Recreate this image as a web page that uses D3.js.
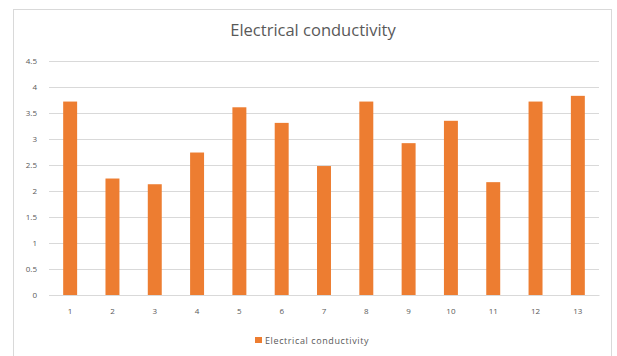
<!DOCTYPE html>
<html>
<head>
<meta charset="utf-8">
<script src="https://cdn.jsdelivr.net/npm/d3@7"></script>
<style>
  html, body { margin: 0; padding: 0; background: #ffffff; }
  svg { display: block; }
  text { font-family: "Open Sans", "Noto Sans", sans-serif; fill: #595959; }
</style>
</head>
<body>
<script>
// Sample numbers and their measured conductivity
const categories = ["1","2","3","4","5","6","7","8","9","10","11","12","13"];
const conductivity = [3.72, 2.24, 2.13, 2.74, 3.61, 3.31, 2.48, 3.72, 2.92, 3.35, 2.17, 3.72, 3.83];
const yTicks = [0, 0.5, 1, 1.5, 2, 2.5, 3, 3.5, 4, 4.5];
const seriesName = "Electrical conductivity";
const chartTitle = "Electrical conductivity";

const W = 617, H = 356;
const plot = { left: 49, right: 599, top: 61, bottom: 295 };
const barColor = "#ED7D31";
const gridColor = "#d9d9d9";

const svg = d3.select("body").append("svg")
  .attr("width", W).attr("height", H);

// Chart area frame
svg.append("rect")
  .attr("x", 13.5).attr("y", 9.5)
  .attr("width", 598).attr("height", 360)
  .attr("fill", "#ffffff")
  .attr("stroke", gridColor).attr("stroke-width", 1);

const x = d3.scaleBand()
  .domain(categories)
  .range([plot.left, plot.right])
  .paddingInner(0.67)
  .paddingOuter(0.335);

const y = d3.scaleLinear()
  .domain([0, 4.5])
  .range([plot.bottom, plot.top]);

// Horizontal gridlines and value labels
const yAxis = d3.axisLeft(y)
  .tickValues(yTicks)
  .tickFormat(d3.format("~g"))
  .tickSize(-(plot.right - plot.left))
  .tickPadding(12);

const gy = svg.append("g")
  .attr("transform", `translate(${plot.left},0)`)
  .call(yAxis);
gy.select(".domain").remove();
gy.selectAll(".tick line").attr("stroke", gridColor).attr("stroke-width", 1);
gy.selectAll(".tick text")
  .style("font-size", "8px")
  .attr("fill", "#595959");

// Bars
svg.append("g").selectAll("rect")
  .data(categories)
  .join("rect")
  .attr("x", d => x(d))
  .attr("width", x.bandwidth())
  .attr("y", (d, i) => y(conductivity[i]))
  .attr("height", (d, i) => y(0) - y(conductivity[i]))
  .attr("fill", barColor);

// Category axis
const xAxis = d3.axisBottom(x).tickSize(0).tickPadding(13);
const gx = svg.append("g")
  .attr("transform", `translate(0,${plot.bottom})`)
  .call(xAxis);
gx.select(".domain")
  .attr("stroke", gridColor).attr("stroke-width", 1);
gx.selectAll(".tick text")
  .style("font-size", "8px")
  .attr("fill", "#595959");

// Title
svg.append("text")
  .attr("x", 313).attr("y", 36)
  .attr("text-anchor", "middle")
  .style("font-size", "16.5px")
  .text(chartTitle);

// Legend
const legend = svg.append("g").attr("transform", "translate(255,337)");
legend.append("rect")
  .attr("x", 0).attr("y", 0)
  .attr("width", 7).attr("height", 6)
  .attr("fill", barColor);
legend.append("text")
  .attr("x", 10).attr("y", 6.5)
  .style("font-size", "9px")
  .style("letter-spacing", "0.6px")
  .text(seriesName);
</script>
</body>
</html>
